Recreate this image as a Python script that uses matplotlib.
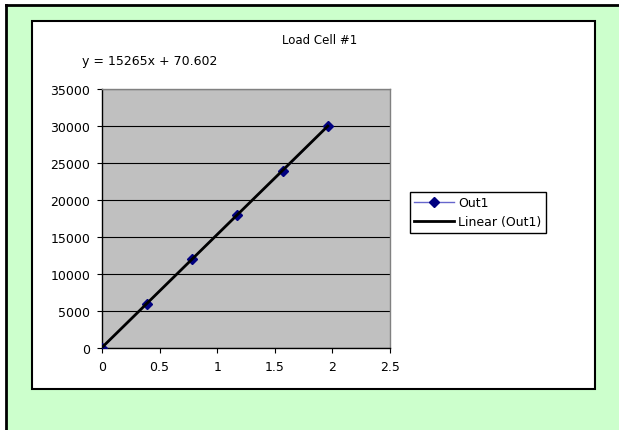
import numpy as np
import matplotlib
matplotlib.use('Agg')
import matplotlib.pyplot as plt
from matplotlib.patches import Rectangle
from matplotlib.lines import Line2D

# load cell calibration: input vs output counts
displacement = [0, 0.39, 0.78, 1.17, 1.57, 1.96]
out1 = [0, 6000, 12000, 18000, 23900, 30000]

# trendline coefficients (shown in the equation label)
slope = 15265
intercept = 70.602

x_ticks = [0, 0.5, 1, 1.5, 2, 2.5]
y_ticks = [0, 5000, 10000, 15000, 20000, 25000, 30000, 35000]

W, H = 619, 431
plt.rcParams['font.family'] = 'DejaVu Sans'
plt.rcParams['font.size'] = 9

fig = plt.figure(figsize=(W / 100, H / 100), dpi=100)
fig.patch.set_facecolor('white')


def px(x, y):
    # pixel coords (from top left) -> figure fraction
    return x / W, 1 - y / H


# green sheet background with black edge on left and top
gx, gy = px(6, 6)
fig.patches.append(Rectangle((gx, 0), 1 - gx, gy, transform=fig.transFigure,
                             facecolor='#CCFFCC', edgecolor='none', zorder=0))
fig.lines.append(Line2D([gx, gx], [0, gy], transform=fig.transFigure, color='black', lw=2))
fig.lines.append(Line2D([gx, 1], [gy, gy], transform=fig.transFigure, color='black', lw=2))

# white chart area
cx0, cy1 = px(32, 22)
cx1, cy0 = px(595, 390)
fig.patches.append(Rectangle((cx0, cy0), cx1 - cx0, cy1 - cy0, transform=fig.transFigure,
                             facecolor='white', edgecolor='black', lw=1.5, zorder=1))

# plot area
ax0, ay1 = px(102, 90)
ax1, ay0 = px(390, 349)
ax = fig.add_axes([ax0, ay0, ax1 - ax0, ay1 - ay0])
ax.set_facecolor('#C0C0C0')
ax.set_zorder(2)

ax.plot(displacement, out1, color='#6666CC', lw=1, marker='D', markersize=5.5,
        markerfacecolor='#000080', markeredgecolor='#000080', label='Out1', zorder=3)

xfit = np.array([0, max(displacement)])
ax.plot(xfit, slope * xfit + intercept, color='black', lw=2, label='Linear (Out1)', zorder=4)

ax.set_xlim(0, 2.5)
ax.set_ylim(0, 35000)
ax.set_xticks(x_ticks)
ax.set_xticklabels(['0', '0.5', '1', '1.5', '2', '2.5'])
ax.set_yticks(y_ticks)
ax.yaxis.grid(True, color='black', lw=0.8)
ax.set_axisbelow(True)

ax.spines['left'].set_color('black')
ax.spines['bottom'].set_color('black')
ax.spines['top'].set_color('#808080')
ax.spines['right'].set_color('#808080')
for s in ax.spines.values():
    s.set_linewidth(1)
ax.tick_params(direction='out', length=3.5, width=0.8, colors='black', pad=5)

# title and fit equation
tx, ty = px(320, 41)
fig.text(tx, ty, 'Load Cell #1', ha='center', va='center', fontsize=8.5)
ex, ey = px(82, 61)
fig.text(ex, ey, 'y = 15265x + 70.602', ha='left', va='center', fontsize=9)

lx, ly = px(410, 213)
leg = ax.legend(loc='center left', bbox_to_anchor=(lx, ly), bbox_transform=fig.transFigure,
                frameon=True, fancybox=False, framealpha=1, edgecolor='black',
                fontsize=9, handlelength=3.2, handletextpad=0.3, borderpad=0.35,
                labelspacing=0.5, borderaxespad=0)
leg.get_frame().set_linewidth(1)

fig.savefig('out.png', dpi=100, facecolor=fig.get_facecolor())
